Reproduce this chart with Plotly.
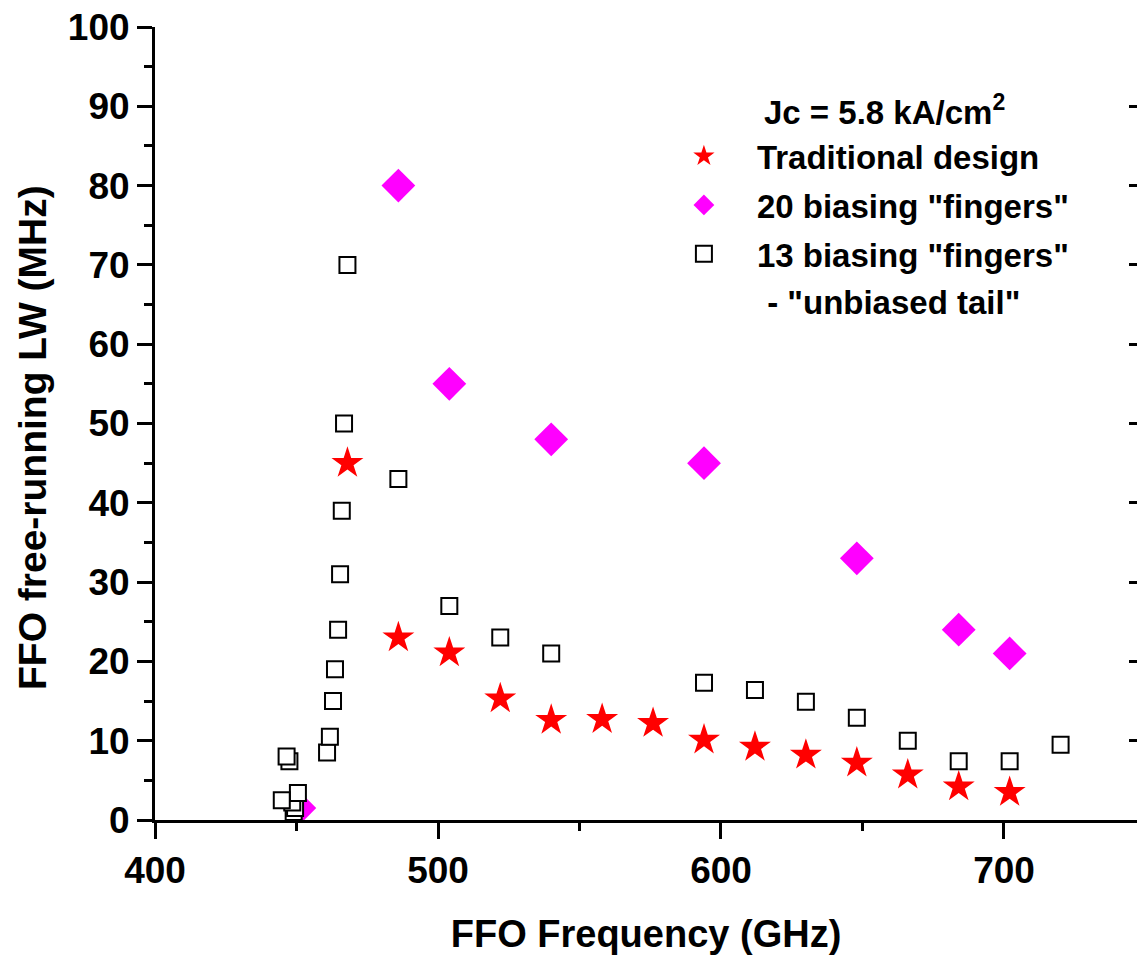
import plotly.graph_objects as go

# Traditional design (red stars)
trad_f = [468, 486, 504, 522, 540, 558, 576, 594, 612, 630, 648, 666, 684, 702]
trad_lw = [45.0, 23.0, 21.1, 15.3, 12.6, 12.7, 12.2, 10.1, 9.2, 8.2, 7.2, 5.7, 4.2, 3.5]

# 20 biasing "fingers" (magenta diamonds)
f20_f = [451, 486, 504, 540, 594, 648, 684, 702]
f20_lw = [1.5, 80.0, 55.0, 48.0, 45.0, 33.0, 24.0, 21.0]

# 13 biasing "fingers" - "unbiased tail" (open squares)
f13_f = [449, 449.5, 448.5, 450.5, 444.8, 447.5, 446.5,
         460.8, 461.8, 462.9, 463.6, 464.7, 465.4, 466.0, 466.8, 468,
         486, 504, 522, 540, 594, 612, 630, 648, 666, 684, 702, 720]
f13_lw = [1.0, 1.5, 2.2, 3.4, 2.5, 7.4, 8.0,
          8.5, 10.5, 15.0, 19.0, 24.0, 31.0, 39.0, 50.0, 70.0,
          43.0, 27.0, 23.0, 21.0, 17.3, 16.4, 14.9, 12.9, 10.0, 7.4, 7.4, 9.5]

x_ticks = [400, 500, 600, 700]
y_ticks = [0, 10, 20, 30, 40, 50, 60, 70, 80, 90, 100]

FONT = "Liberation Sans"

fig = go.Figure()
fig.add_trace(go.Scatter(
    x=trad_f, y=trad_lw, mode="markers", name="Traditional design",
    legendgroup="a", legendrank=1,
    marker=dict(symbol="star", size=24, color="#ff0000",
                line=dict(width=0))))
fig.add_trace(go.Scatter(
    x=f20_f, y=f20_lw, mode="markers", name='20 biasing "fingers"',
    legendgroup="b", legendrank=2,
    marker=dict(symbol="diamond", size=26, color="#ff00ff",
                line=dict(width=0))))
fig.add_trace(go.Scatter(
    x=f13_f, y=f13_lw, mode="markers", name='13 biasing "fingers"',
    legendgroup="c", legendrank=3,
    marker=dict(symbol="square", size=16, color="white",
                line=dict(color="black", width=2))))
# invisible trace to carry the right-hand tick axis
fig.add_trace(go.Scatter(x=[None], y=[None], yaxis="y2", showlegend=False,
                         hoverinfo="skip"))

fig.update_layout(
    width=1137, height=959,
    margin=dict(l=155, r=0, t=27, b=139),
    plot_bgcolor="white", paper_bgcolor="white",
    font=dict(family=FONT, color="black"),
    showlegend=True,
    legend=dict(x=0.505, y=0.8725, xanchor="left", yanchor="top",
                bgcolor="rgba(0,0,0,0)", tracegroupgap=3, itemwidth=96,
                font=dict(family=FONT, size=33, weight="bold", color="black"),
                itemsizing="trace"),
    xaxis=dict(range=[400, 747], tickvals=x_ticks,
               showline=True, linecolor="black", linewidth=3,
               ticks="outside", ticklen=16, tickwidth=3, tickcolor="black",
               minor=dict(dtick=50, ticks="outside", ticklen=8, tickwidth=3,
                          tickcolor="black", showgrid=False),
               showgrid=False, zeroline=False,
               tickfont=dict(family=FONT, size=37, weight="bold"),
               title=dict(text="FFO Frequency (GHz)", standoff=30,
                          font=dict(family=FONT, size=38, weight="bold"))),
    yaxis=dict(range=[0, 100], tickvals=y_ticks,
               showline=True, linecolor="black", linewidth=3,
               ticks="outside", ticklen=15, tickwidth=3, tickcolor="black",
               minor=dict(dtick=5, ticks="outside", ticklen=8, tickwidth=3,
                          tickcolor="black", showgrid=False),
               showgrid=False, zeroline=False,
               tickfont=dict(family=FONT, size=37, weight="bold")),
    yaxis2=dict(overlaying="y", side="right", matches="y", range=[0, 100],
                tickvals=y_ticks, ticks="inside", ticklen=8, tickwidth=3,
                tickcolor="black", showticklabels=False, showline=False,
                showgrid=False, zeroline=False),
    annotations=[
        dict(text="FFO free-running LW (MHz)", xref="paper", yref="paper",
             x=-0.124, y=0.482, xanchor="center", yanchor="middle",
             textangle=-90, showarrow=False,
             font=dict(family=FONT, size=39, weight="bold")),
        dict(text="Jc = 5.8 kA/cm<sup>2</sup>", xref="paper", yref="paper",
             x=0.618, y=0.866, xanchor="left", yanchor="bottom", showarrow=False,
             font=dict(family=FONT, size=33, weight="bold")),
        dict(text=' - "unbiased tail"', xref="paper", yref="paper",
             x=0.612, y=0.653, xanchor="left", yanchor="middle", showarrow=False,
             font=dict(family=FONT, size=33, weight="bold")),
    ],
)

fig.write_html("out.html")
